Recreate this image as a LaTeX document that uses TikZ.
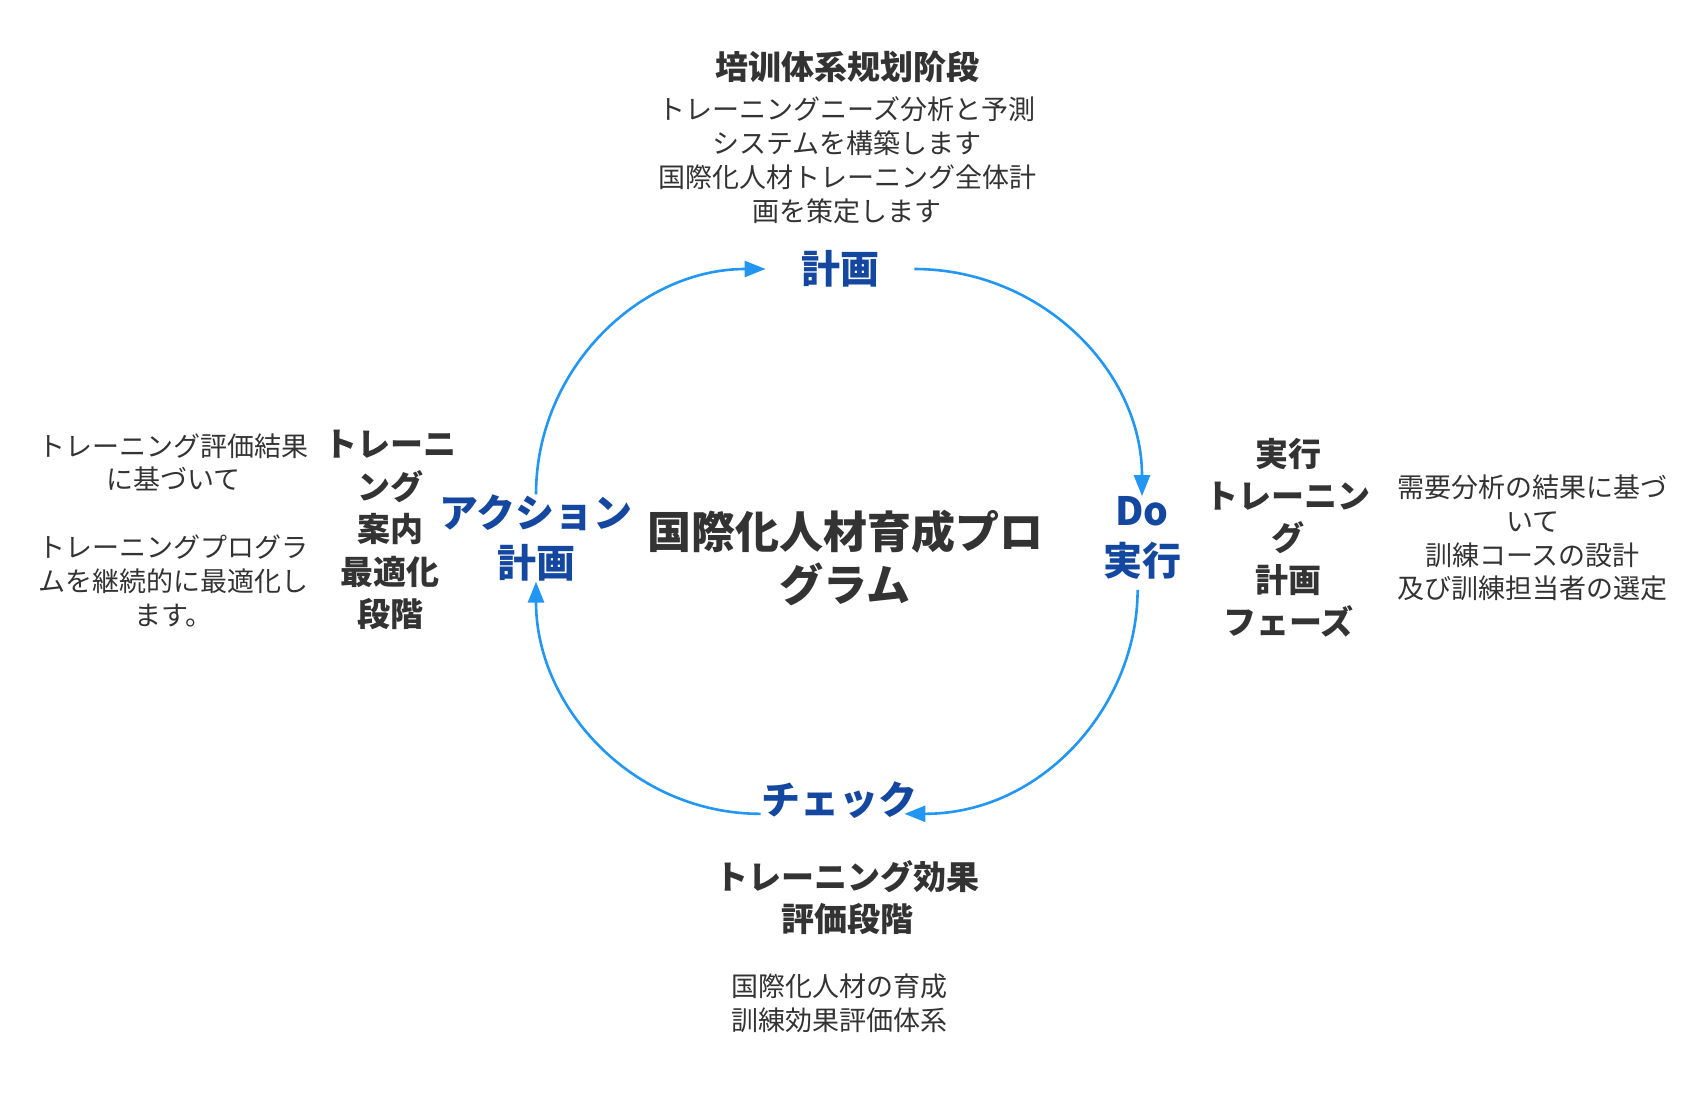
\documentclass[tikz,border=0pt]{standalone}
\usepackage{fontspec}
\setmainfont{Noto Sans CJK JP}
\usepackage{xcolor}
\usetikzlibrary{arrows.meta,positioning}
\definecolor{ink}{HTML}{333333}
\definecolor{stageblue}{HTML}{1448A0}
\definecolor{loopblue}{HTML}{2196F3}
\tikzset{
  stage/.style={text=stageblue,font=\bfseries\fontsize{19.5}{25}\selectfont,align=center,inner sep=0pt},
  hub/.style={text=ink,font=\bfseries\fontsize{22}{26.7}\selectfont,align=center,inner sep=0pt},
  phase/.style={text=ink,font=\bfseries\fontsize{16.5}{21}\selectfont,align=center,inner sep=0pt},
  note/.style={text=ink,font=\fontsize{13.5}{16.9}\selectfont,align=center,inner sep=0pt},
  flow/.style={-{Triangle[length=10.5pt,width=8pt]},line width=1.3pt,draw=loopblue}
}

\begin{document}
\begin{tikzpicture}[x=0.5pt,y=0.5pt]
  \useasboundingbox (0,0) rectangle (1707,-1092);
  % centre of the cycle
  \node[hub] (hub) at (845,-558) {国際化人材育成プロ\\グラム};
  % the four stages
  \node[stage,inner xsep=17.5pt] (plan) at (840,-269) {計画};
  \node[stage] (do) at (1142,-538) {Do\\実行};
  \node[stage] (chk) at (839,-800) {チェック};
  \node[stage] (act) at (536,-538) {アクション\\計画};
  % phase titles and notes
  \node[phase] (planttl) at (847,-67) {培训体系规划阶段};
  \node[note,below=6.5pt of planttl] (plannote) {トレーニングニーズ分析と予測\\システムを構築します\\国際化人材トレーニング全体計\\画を策定します};
  \node[phase,right=12pt of do] (dottl) {実行\\トレーニン\\グ\\計画\\フェーズ};
  \node[note,right=13pt of dottl] (donote) {需要分析の結果に基づ\\いて\\訓練コースの設計\\及び訓練担当者の選定};
  \node[phase] (chkttl) at (847,-898) {トレーニング効果\\評価段階};
  \node[note,below=19pt of chkttl.south -| chk] (chknote) {国際化人材の育成\\訓練効果評価体系};
  \node[phase,font=\bfseries\fontsize{16.5}{21.2}\selectfont] (actttl) at (390,-530) {トレーニ\\ング\\案内\\最適化\\段階};
  \node[note,left=7.5pt of actttl] (actnote) {トレーニング評価結果\\に基づいて\\[16.9pt]トレーニングプログラ\\ムを継続的に最適化し\\ます。};
  % the loop
  \draw[flow] (act.north) to[out=90,in=180] (plan.west);
  \draw[flow] (plan.east) to[out=0,in=90] (do.north);
  \draw[flow,shorten <=5pt,shorten >=-6.5pt] (do.-96) to[out=-90,in=0] (chk.-10);
  \draw[flow] (chk.190) to[out=180,in=-90] (act.south);
\end{tikzpicture}
\end{document}
